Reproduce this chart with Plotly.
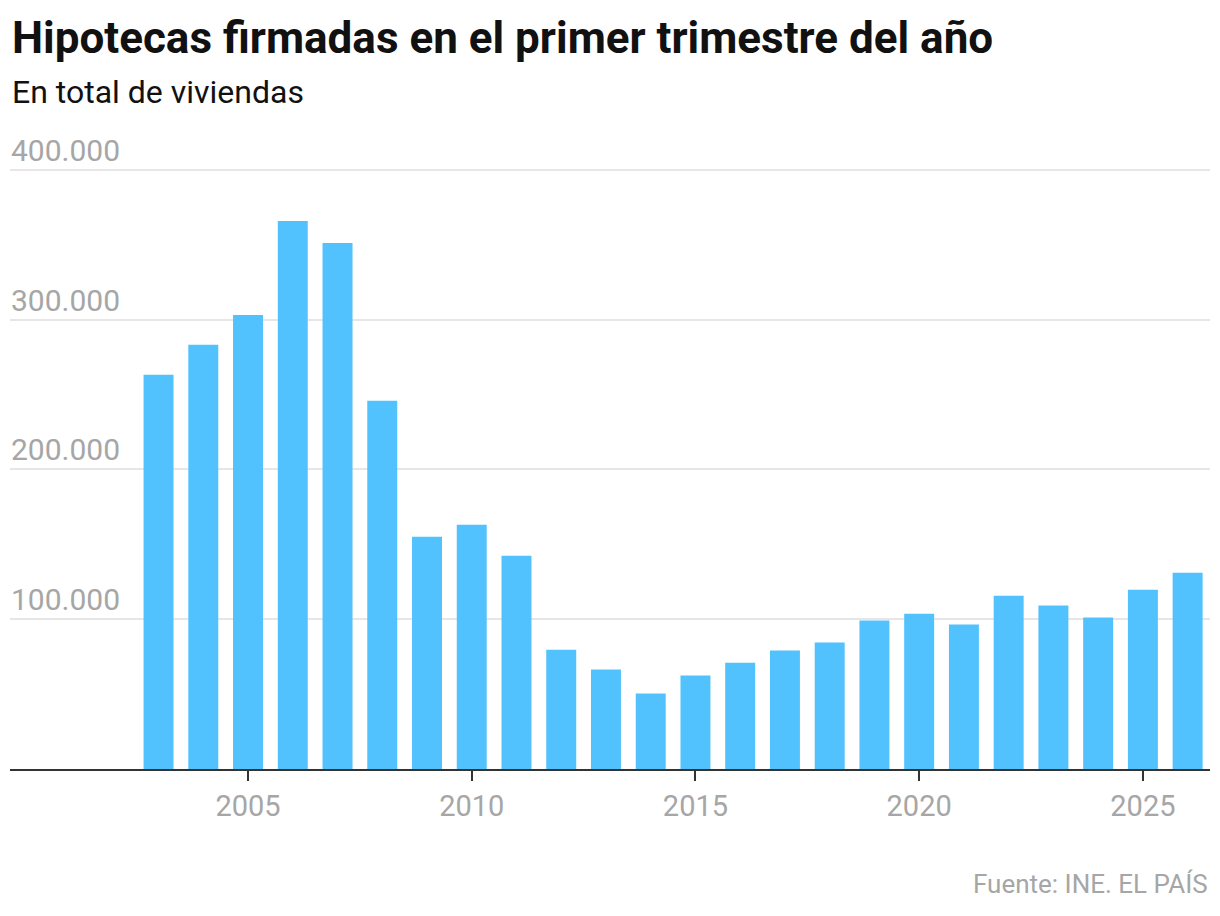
"""Hipotecas firmadas en el primer trimestre del año (INE), gráfico de barras."""
import plotly.graph_objects as go

ANIOS = list(range(2003, 2027))
HIPOTECAS = [
    263200, 283200, 303200, 365900, 351200, 245800,
    155100, 163100, 142400, 79700, 66400, 50400,
    62400, 71000, 79100, 84400, 99100, 103700,
    96400, 115700, 109100, 101100, 119700, 131100,
]
TICKS_X = [2005, 2010, 2015, 2020, 2025]
TICKS_Y = [100000, 200000, 300000, 400000]
ETIQ_Y = ["100.000", "200.000", "300.000", "400.000"]

TITULO = "Hipotecas firmadas en el primer trimestre del año"
SUBTITULO = "En total de viviendas"
FUENTE = "Fuente: INE. EL PAÍS"

GRIS = "#a6a6a6"
AZUL = "#52c2fe"

# márgenes en píxeles
M_TOP, M_BOT = 168, 146.5
ALTO = 916 - M_TOP - M_BOT
PX_POR_UNIDAD = 149.9 / 100000

fig = go.Figure(
    go.Bar(x=ANIOS, y=HIPOTECAS, marker=dict(color=AZUL, line_width=0),
           hoverinfo="x+y")
)

fig.update_xaxes(
    range=[1999.68, 2026.5],
    tickvals=TICKS_X,
    ticks="outside", ticklen=10, tickwidth=2, tickcolor="#333333",
    showline=True, linecolor="#333333", linewidth=2,
    showgrid=False, zeroline=False, automargin=False,
    tickfont=dict(family="Roboto", size=29, color=GRIS),
)
fig.update_yaxes(
    range=[0, ALTO / PX_POR_UNIDAD],
    tickvals=TICKS_Y, showticklabels=False,
    showgrid=True, gridcolor="#e6e6e6", gridwidth=2,
    zeroline=False, showline=False, ticks="", automargin=False,
)

# etiquetas del eje y encima de cada línea de rejilla
for valor, etiqueta in zip(TICKS_Y, ETIQ_Y):
    fig.add_annotation(text=etiqueta, x=0, xref="paper", xanchor="left",
                       y=valor, yref="y", yanchor="bottom", yshift=1,
                       showarrow=False, borderpad=0,
                       font=dict(family="Roboto", size=30, color=GRIS))


def py(px):
    return (916 - M_BOT - px) / ALTO


fig.add_annotation(text=f"<b>{TITULO}</b>", x=0, xref="paper", xanchor="left",
                   y=py(38), yref="paper", yanchor="middle", showarrow=False,
                   font=dict(family="Roboto", size=44, color="#111111"))
fig.add_annotation(text=SUBTITULO, x=0, xref="paper", xanchor="left",
                   y=py(92), yref="paper", yanchor="middle", showarrow=False,
                   font=dict(family="Roboto", size=32, color="#111111"))
fig.add_annotation(text=FUENTE, x=1, xref="paper", xanchor="right",
                   y=py(885), yref="paper", yanchor="middle", showarrow=False,
                   font=dict(family="Roboto", size=26, color=GRIS))

fig.update_layout(
    width=1220, height=916,
    margin=dict(l=10, r=10, t=M_TOP, b=M_BOT, autoexpand=False),
    plot_bgcolor="white", paper_bgcolor="white",
    bargap=0.33, showlegend=False,
)

fig.write_html("out.html", config={"displayModeBar": False},
               post_script="document.body.style.margin='0';")
